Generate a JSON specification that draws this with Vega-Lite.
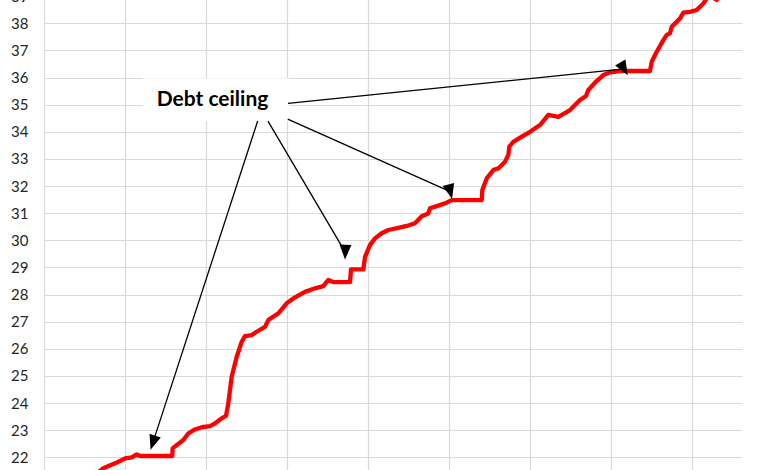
{
  "$schema": "https://vega.github.io/schema/vega-lite/v6.json",
  "width": 698,
  "height": 515.5,
  "autosize": {"type": "none"},
  "padding": {"left": 44, "right": 38, "top": -31, "bottom": -14.5},
  "background": "white",
  "config": {
    "view": {"stroke": null},
    "axis": {"labelFont": "Lato", "gridColor": "#d9d9d9", "gridWidth": 1.2}
  },
  "datasets": {
    "debt": [
      {"year": 2018.630, "debt": 21.35},
      {"year": 2018.732, "debt": 21.60},
      {"year": 2018.877, "debt": 21.78},
      {"year": 2019.000, "debt": 21.96},
      {"year": 2019.083, "debt": 22.00},
      {"year": 2019.144, "debt": 22.11},
      {"year": 2019.185, "debt": 22.05},
      {"year": 2019.584, "debt": 22.05},
      {"year": 2019.587, "debt": 22.33},
      {"year": 2019.720, "debt": 22.64},
      {"year": 2019.781, "debt": 22.88},
      {"year": 2019.864, "debt": 23.03},
      {"year": 2019.947, "debt": 23.11},
      {"year": 2020.049, "debt": 23.15},
      {"year": 2020.111, "debt": 23.25},
      {"year": 2020.194, "debt": 23.44},
      {"year": 2020.247, "debt": 23.53},
      {"year": 2020.275, "debt": 23.99},
      {"year": 2020.317, "debt": 24.97},
      {"year": 2020.379, "debt": 25.71},
      {"year": 2020.441, "debt": 26.26},
      {"year": 2020.481, "debt": 26.47},
      {"year": 2020.564, "debt": 26.51},
      {"year": 2020.626, "debt": 26.63},
      {"year": 2020.728, "debt": 26.81},
      {"year": 2020.769, "debt": 27.06},
      {"year": 2020.893, "debt": 27.31},
      {"year": 2020.996, "debt": 27.68},
      {"year": 2021.099, "debt": 27.90},
      {"year": 2021.222, "debt": 28.10},
      {"year": 2021.346, "debt": 28.23},
      {"year": 2021.448, "debt": 28.31},
      {"year": 2021.510, "debt": 28.54},
      {"year": 2021.572, "debt": 28.46},
      {"year": 2021.778, "debt": 28.46},
      {"year": 2021.790, "debt": 28.93},
      {"year": 2021.942, "debt": 28.93},
      {"year": 2021.963, "debt": 29.39},
      {"year": 2022.025, "debt": 29.83},
      {"year": 2022.086, "debt": 30.07},
      {"year": 2022.169, "debt": 30.26},
      {"year": 2022.251, "debt": 30.38},
      {"year": 2022.374, "debt": 30.46},
      {"year": 2022.478, "debt": 30.53},
      {"year": 2022.580, "debt": 30.63},
      {"year": 2022.663, "debt": 30.89},
      {"year": 2022.744, "debt": 30.99},
      {"year": 2022.765, "debt": 31.18},
      {"year": 2022.848, "debt": 31.26},
      {"year": 2022.951, "debt": 31.36},
      {"year": 2023.033, "debt": 31.48},
      {"year": 2023.404, "debt": 31.48},
      {"year": 2023.411, "debt": 31.85},
      {"year": 2023.465, "debt": 32.28},
      {"year": 2023.547, "debt": 32.59},
      {"year": 2023.609, "debt": 32.65},
      {"year": 2023.691, "debt": 32.90},
      {"year": 2023.732, "debt": 33.14},
      {"year": 2023.744, "debt": 33.45},
      {"year": 2023.794, "debt": 33.63},
      {"year": 2023.898, "debt": 33.82},
      {"year": 2024.000, "debt": 34.00},
      {"year": 2024.123, "debt": 34.25},
      {"year": 2024.226, "debt": 34.62},
      {"year": 2024.349, "debt": 34.55},
      {"year": 2024.494, "debt": 34.80},
      {"year": 2024.617, "debt": 35.17},
      {"year": 2024.691, "debt": 35.32},
      {"year": 2024.720, "debt": 35.54},
      {"year": 2024.802, "debt": 35.81},
      {"year": 2024.905, "debt": 36.09},
      {"year": 2024.988, "debt": 36.19},
      {"year": 2025.111, "debt": 36.24},
      {"year": 2025.481, "debt": 36.24},
      {"year": 2025.502, "debt": 36.58},
      {"year": 2025.564, "debt": 36.95},
      {"year": 2025.646, "debt": 37.38},
      {"year": 2025.688, "debt": 37.57},
      {"year": 2025.728, "debt": 37.63},
      {"year": 2025.749, "debt": 37.87},
      {"year": 2025.852, "debt": 38.18},
      {"year": 2025.893, "debt": 38.39},
      {"year": 2025.975, "debt": 38.42},
      {"year": 2026.058, "debt": 38.49},
      {"year": 2026.140, "debt": 38.73},
      {"year": 2026.185, "debt": 38.93},
      {"year": 2026.247, "debt": 38.97},
      {"year": 2026.305, "debt": 38.86},
      {"year": 2026.346, "debt": 39.01}
    ],
    "arrows": [
      {"target": "2019", "fromYear": 2020.638, "fromDebt": 34.396, "toYear": 2019.344, "toDebt": 22.542},
      {"target": "2021", "fromYear": 2020.765, "fromDebt": 34.396, "toYear": 2021.719, "toDebt": 29.563},
      {"target": "2023", "fromYear": 2021.009, "fromDebt": 34.470, "toYear": 2023.015, "toDebt": 31.795},
      {"target": "2025", "fromYear": 2021.012, "fromDebt": 35.048, "toYear": 2025.161, "toDebt": 36.316}
    ],
    "label": [
      {"text": "Debt ceiling", "year": 2020.080, "debt": 34.96, "boxStart": 2019.222, "boxEnd": 2021.03, "boxLow": 34.40, "boxHigh": 35.97}
    ]
  },
  "layer": [
    {
      "data": {"name": "label"},
      "mark": {"type": "rect", "fill": "white", "stroke": null},
      "encoding": {
        "x": {"field": "boxStart", "type": "quantitative", "scale": {"domain": [2018, 2026.617], "nice": false, "zero": false},
              "axis": {"values": [2018, 2019, 2020, 2021, 2022, 2023, 2024, 2025, 2026], "tickCount": 30, "grid": true, "labels": false, "ticks": false, "domain": false, "title": null}},
        "x2": {"field": "boxEnd"},
        "y": {"field": "boxLow", "type": "quantitative", "scale": {"domain": [21, 40], "nice": false, "zero": false},
              "axis": {"values": [22, 23, 24, 25, 26, 27, 28, 29, 30, 31, 32, 33, 34, 35, 36, 37, 38, 39], "tickCount": 40, "format": "d", "grid": true, "ticks": false, "domain": false, "title": null, "labelFontSize": 15, "labelColor": "#262626", "labelPadding": 16, "labelBound": false, "labelFlush": false, "labelOverlap": false}},
        "y2": {"field": "boxHigh"}
      }
    },
    {
      "data": {"name": "debt"},
      "mark": {"type": "line", "color": "#ff0000", "strokeWidth": 4.3, "strokeJoin": "round", "strokeCap": "round"},
      "encoding": {
        "x": {"field": "year", "type": "quantitative"},
        "y": {"field": "debt", "type": "quantitative"}
      }
    },
    {
      "data": {"name": "arrows"},
      "mark": {"type": "rule", "color": "black", "strokeWidth": 1.3},
      "encoding": {
        "x": {"field": "fromYear", "type": "quantitative"},
        "y": {"field": "fromDebt", "type": "quantitative"},
        "x2": {"field": "toYear"},
        "y2": {"field": "toDebt"}
      }
    },
    {
      "data": {"name": "arrows"},
      "mark": {"type": "point", "shape": "M0,-1L-0.8,1L0.8,1Z", "filled": true, "color": "black", "opacity": 1, "size": 220, "strokeWidth": 0},
      "encoding": {
        "x": {"field": "toYear", "type": "quantitative"},
        "y": {"field": "toDebt", "type": "quantitative"},
        "angle": {"field": "target", "type": "nominal", "scale": {"domain": ["2019", "2021", "2023", "2025"], "range": [198.1, 149.5, 114.1, 84.2]}, "legend": null}
      }
    },
    {
      "data": {"name": "label"},
      "mark": {"type": "text", "font": "Lato", "fontWeight": "bold", "fontSize": 21, "color": "black", "align": "center", "baseline": "alphabetic"},
      "encoding": {
        "x": {"field": "year", "type": "quantitative"},
        "y": {"field": "debt", "type": "quantitative"},
        "text": {"field": "text"}
      }
    }
  ]
}
